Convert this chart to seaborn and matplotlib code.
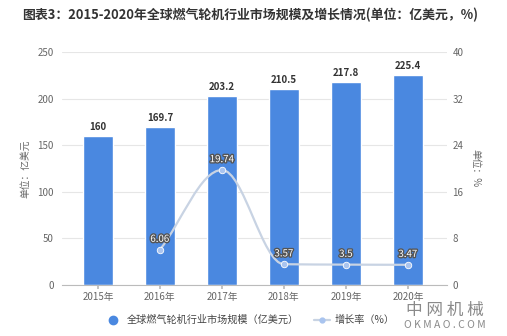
import numpy as np
import pandas as pd
import matplotlib
matplotlib.use("Agg")
import matplotlib.pyplot as plt
import seaborn as sns
from matplotlib.path import Path
from matplotlib.patches import PathPatch
from matplotlib.lines import Line2D
import matplotlib.patheffects as pe

sns.set_theme(style="white")
plt.rcParams['font.family'] = ['Noto Sans CJK SC', 'DejaVu Sans']

years = ["2015年", "2016年", "2017年", "2018年", "2019年", "2020年"]
market = [160, 169.7, 203.2, 210.5, 217.8, 225.4]
growth_years = ["2016年", "2017年", "2018年", "2019年", "2020年"]
growth = [6.06, 19.74, 3.57, 3.5, 3.47]
left_ticks = [0, 50, 100, 150, 200, 250]
right_ticks = [0, 8, 16, 24, 32, 40]

bar_color = "#4a88e0"
line_color = "#c8d3e3"
marker_color = "#a9c4ef"
text_gray = "#666666"

df = pd.DataFrame({"year": years, "market": market})

fig = plt.figure(figsize=(5.07, 3.36), dpi=100)
ax = fig.add_axes([62 / 507, 1 - 285 / 336, 385 / 507, 233 / 336])
sns.barplot(data=df, x="year", y="market", color=bar_color, width=0.48,
            saturation=1, ax=ax, zorder=2)
ax.set_xlim(-0.58, 5.63)
ax.set_ylim(0, 250)
ax.set_yticks(left_ticks)
ax.set_yticklabels([str(t) for t in left_ticks])
ax.grid(axis="y", color="#e6e6e6", linewidth=0.8, zorder=0)
ax.set_axisbelow(True)
for s in ["top", "right", "left"]:
    ax.spines[s].set_visible(False)
ax.spines["bottom"].set_color("#bbbbbb")
ax.spines["bottom"].set_linewidth(0.8)
ax.tick_params(axis="y", length=0, labelsize=7, labelcolor=text_gray, pad=6)
ax.tick_params(axis="x", length=3, color="#bbbbbb", labelsize=7,
               labelcolor=text_gray, pad=2, bottom=True)
ax.set_xlabel("")
ax.set_ylabel("单位：亿美元", fontsize=7, color=text_gray, labelpad=5)

for i, v in enumerate(market):
    ax.text(i, v + 4, f"{v:g}", ha="center", va="bottom", fontsize=7,
            fontweight="bold", color="#333333")

ax2 = ax.twinx()
ax2.set_ylim(0, 40)
ax2.set_yticks(right_ticks)
ax2.set_yticklabels([str(t) for t in right_ticks])
for s in ["top", "right", "left", "bottom"]:
    ax2.spines[s].set_visible(False)
ax2.tick_params(axis="y", length=0, labelsize=7, labelcolor=text_gray, pad=4)
ax2.set_ylabel("单位：%", fontsize=7, color=text_gray, rotation=270, labelpad=12)

gx = np.array([years.index(y) for y in growth_years], dtype=float)
gy = np.array(growth, dtype=float)
n = len(gx)


def tangent(j):
    # monotone (Fritsch-Carlson style) tangent, flat at extrema and ends
    if j == 0 or j == n - 1:
        return 0.0
    a = (gy[j] - gy[j - 1]) / (gx[j] - gx[j - 1])
    b = (gy[j + 1] - gy[j]) / (gx[j + 1] - gx[j])
    if a * b <= 0:
        return 0.0
    return 2 * a * b / (a + b)


# smooth curve through the points as cubic Bezier segments
verts = [(gx[0], gy[0])]
codes = [Path.MOVETO]
k = 0.35
for i in range(n - 1):
    x0, y0 = gx[i], gy[i]
    x1, y1 = gx[i + 1], gy[i + 1]
    dx = x1 - x0
    m0, m1 = tangent(i), tangent(i + 1)
    if i == 0:
        m0 = (y1 - y0) / dx
    verts += [(x0 + k * dx, y0 + m0 * k * dx),
              (x1 - k * dx, y1 - m1 * k * dx),
              (x1, y1)]
    codes += [Path.CURVE4] * 3
curve = PathPatch(Path(verts, codes), facecolor="none", edgecolor=line_color,
                  linewidth=1.6, zorder=3)
ax2.add_patch(curve)
ax2.scatter(gx, gy, s=22, color=marker_color, edgecolor="white",
            linewidth=0.6, zorder=4)
for xv, yv in zip(gx, gy):
    ax2.text(xv, yv + 1.0, f"{yv:g}", ha="center", va="bottom", fontsize=7,
             color="white", zorder=5,
             path_effects=[pe.withStroke(linewidth=2, foreground="#555555")])

fig.text(22 / 507, 1 - 15 / 336,
         "图表3：2015-2020年全球燃气轮机行业市场规模及增长情况(单位：亿美元，%)",
         fontsize=9.3, fontweight="bold", color="#333333", va="center", ha="left")

handles = [
    Line2D([], [], marker="o", linestyle="none", markersize=6,
           markerfacecolor=bar_color, markeredgecolor=bar_color),
    Line2D([], [], marker="o", color=line_color, linewidth=1.6, markersize=3.5,
           markerfacecolor=marker_color, markeredgecolor=marker_color),
]
fig.legend(handles, ["全球燃气轮机行业市场规模（亿美元）", "增长率（%）"],
           loc="center", bbox_to_anchor=(250 / 507, 1 - 320 / 336), ncol=2,
           frameon=False, fontsize=7.3, labelcolor="#444444",
           handlelength=1.6, columnspacing=1.5, handletextpad=0.5)

fig.text(445 / 507, 1 - 310 / 336, "中 网 机 械", fontsize=12, color="#8a8a8a",
         ha="center", va="center")
fig.text(445 / 507, 1 - 325 / 336, "O K M A O . C O M", fontsize=7.5,
         color="#8a8a8a", ha="center", va="center")

fig.savefig("out.png", dpi=100, facecolor="white")
